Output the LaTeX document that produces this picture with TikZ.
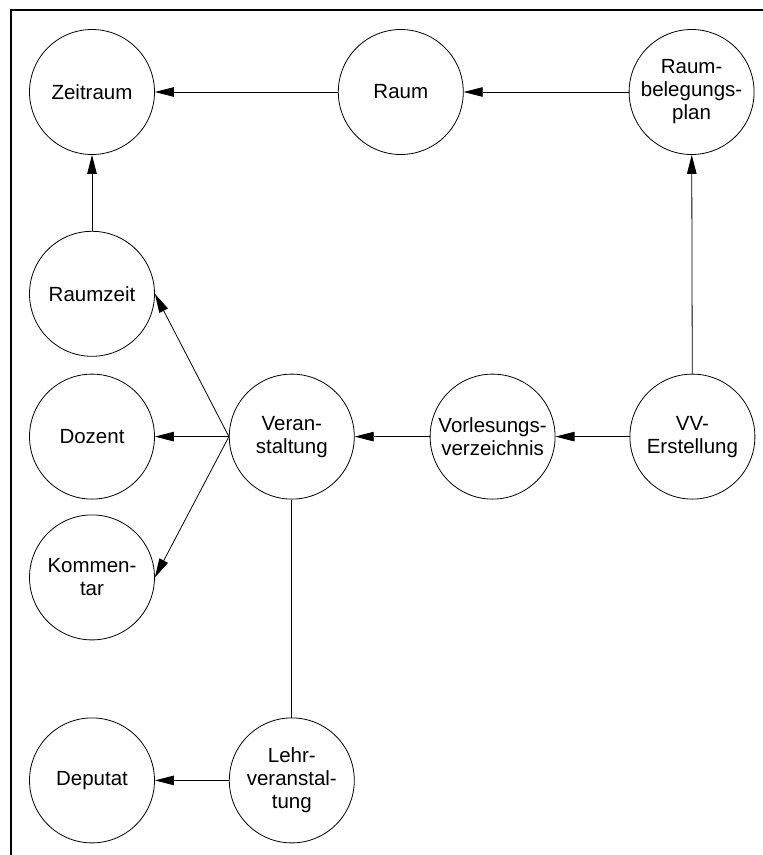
\documentclass[tikz,border=0pt]{standalone}
\usepackage{fontspec}
\setmainfont{Liberation Sans}
\usepackage{tikz}
\usetikzlibrary{arrows.meta,positioning}
\tikzset{
  kreis/.style={circle,draw,line width=0.8pt,minimum size=125pt,inner sep=0pt,
    align=center,font=\fontsize{20.5}{23}\selectfont},
  pfeil/.style={line width=0.8pt,-{Triangle[length=19pt,width=9.5pt]}},
  linie/.style={line width=0.8pt}
}

\begin{document}
\begin{tikzpicture}[x=1pt,y=-1pt]
        \useasboundingbox (0,0) rectangle (763,855);
        \draw[line width=2pt] (11,856) -- (11,10) -- (764,10);
        % obere Reihe
        \node[kreis] (zeitraum) at (92,92) {Zeitraum};
        \node[kreis, right=183pt of zeitraum] (raum) {Raum};
        \node[kreis, right=165pt of raum] (plan) {Raum-\\belegungs-\\plan};
        % linke Spalte
        \node[kreis, below=76pt of zeitraum] (raumzeit) {Raumzeit};
        \node[kreis, below=17pt of raumzeit] (dozent) {Dozent};
        \node[kreis, below=15pt of dozent] (kommentar) {Kommen-\\tar};
        % mittlere Reihe
        \node[kreis, right=74pt of dozent] (veranst) {Veran-\\staltung};
        \node[kreis, right=75pt of veranst] (vv) {Vorlesungs-\\verzeichnis};
        \node[kreis, right=74pt of vv] (vverst) {VV-\\Erstellung};
        % untere Reihe
        \node[kreis, below=218pt of veranst] (lehr) {Lehr-\\veranstal-\\tung};
        \node[kreis, left=74pt of lehr] (deputat) {Deputat};

        \draw[pfeil] (raum) -- (zeitraum);
        \draw[pfeil] (plan) -- (raum);
        \draw[pfeil] (raumzeit) -- (zeitraum);
        \draw[pfeil] (vverst) -- (plan);
        \draw[pfeil] (vverst) -- (vv);
        \draw[pfeil] (vv) -- (veranst);
        \draw[pfeil] (veranst.west) -- (raumzeit.east);
        \draw[pfeil] (veranst.west) -- (dozent.east);
        \draw[pfeil] (veranst.west) -- (kommentar.east);
        \draw[linie] (veranst) -- (lehr);
        \draw[pfeil] (lehr) -- (deputat);
      \end{tikzpicture}
\end{document}
